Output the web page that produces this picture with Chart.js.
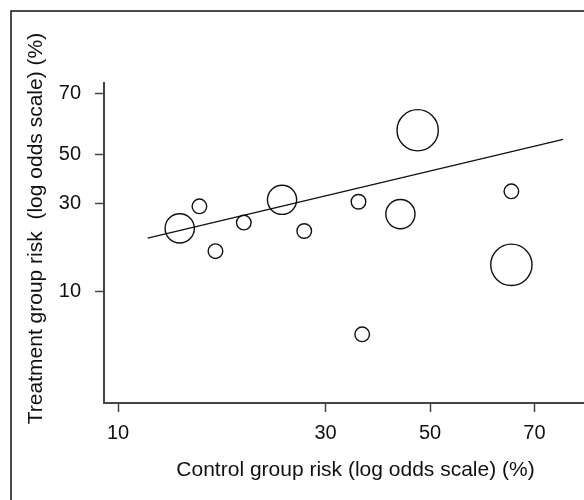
<!DOCTYPE html>
<html>
<head>
<meta charset="utf-8">
<script src="https://cdn.jsdelivr.net/npm/chart.js@4.4.1/dist/chart.umd.min.js"></script>
<style>
    html, body { margin: 0; padding: 0; background: #fff; }
    #wrap { position: relative; width: 584px; height: 500px; }
</style>
</head>
<body>
<div id="wrap"><canvas id="chart"></canvas></div>
<script>
// tick labels (%) and where they sit on the log odds axes
const tickLabels = ['10', '30', '50', '70'];
const xTickPos = [-2.53, -0.847, 0, 0.847];
const yTickPos = [-2.11, -0.75, 0, 0.94];

// studies: control risk, treatment risk (log odds), relative weight
const controlRisk = [-2.03, -1.87, -1.74, -1.51, -1.20, -1.02, -0.58, -0.55, -0.24, -0.10, 0.66, 0.66];
const treatRisk   = [-1.14, -0.80, -1.49, -1.05, -0.70, -1.18, -0.73, -2.77, -0.92, 0.37, -0.57, -1.70];
const studyWeight = [4, 1, 1, 1, 4, 1, 1, 1, 4, 8, 1, 8];

// fitted regression line ends
const fitX = [-2.29, 1.08];
const fitY = [-1.29, 0.23];

const xTitle = 'Control group risk (log odds scale) (%)';
const yTitle = 'Treatment group risk  (log odds scale) (%)';

const FONT = '"Liberation Sans", Arial, sans-serif';
const INK = '#111';
const AXIS = '#444';

const frameAndTitles = {
    id: 'frameAndTitles',
    afterDraw(chart) {
        const ctx = chart.ctx;
        ctx.save();
        // outer frame (top and left only)
        ctx.strokeStyle = INK;
        ctx.lineWidth = 1.5;
        ctx.beginPath();
        ctx.moveTo(11, 500);
        ctx.lineTo(11, 11);
        ctx.lineTo(584, 11);
        ctx.stroke();
        // axis titles
        ctx.fillStyle = INK;
        ctx.font = '21px ' + FONT;
        ctx.textAlign = 'center';
        ctx.textBaseline = 'alphabetic';
        ctx.fillText(xTitle, 355.5, 476);
        ctx.translate(42, 228.5);
        ctx.rotate(-Math.PI / 2);
        ctx.fillText(yTitle, 0, 0);
        ctx.restore();
    }
};

function axis(min, max, ticksAt, pad, extra) {
    return Object.assign({
        type: 'linear',
        min: min,
        max: max,
        afterBuildTicks: s => { s.ticks = ticksAt.map(v => ({ value: v })); },
        ticks: {
            autoSkip: false,
            maxRotation: 0,
            padding: pad,
            color: INK,
            font: { family: FONT, size: 20 },
            callback: (v, i) => tickLabels[i]
        },
        grid: { drawOnChartArea: false, drawTicks: true, tickLength: 9, tickColor: AXIS, tickWidth: 1.5 },
        border: { display: true, color: AXIS, width: 2 }
    }, extra);
}

const bubbles = controlRisk.map((x, i) => ({ x: x, y: treatRisk[i], w: studyWeight[i] }));

new Chart(document.getElementById('chart'), {
    type: 'bubble',
    data: {
        datasets: [
            {
                type: 'line',
                data: fitX.map((x, i) => ({ x: x, y: fitY[i] })),
                borderColor: INK,
                borderWidth: 1.4,
                pointRadius: 0,
                fill: false
            },
            {
                data: bubbles,
                backgroundColor: 'rgba(255,255,255,0)',
                borderColor: INK,
                borderWidth: 1.4,
                radius: c => 7.3 * Math.sqrt(c.raw.w)
            }
        ]
    },
    options: {
        responsive: true,
        maintainAspectRatio: false,
        animation: false,
        layout: { autoPadding: false, padding: { top: 83, left: 0, right: 0, bottom: 0 } },
        plugins: { legend: { display: false }, tooltip: { enabled: false } },
        scales: {
            x: axis(-2.644, 1.249, xTickPos, 9, {
                afterFit: s => { s.height = 97; s.paddingLeft = 0; s.paddingRight = 0; }
            }),
            y: axis(-3.826, 1.097, yTickPos, 14, {
                afterFit: s => { s.width = 104; s.paddingTop = 0; s.paddingBottom = 0; }
            })
        }
    },
    plugins: [frameAndTitles]
});
</script>
</body>
</html>
